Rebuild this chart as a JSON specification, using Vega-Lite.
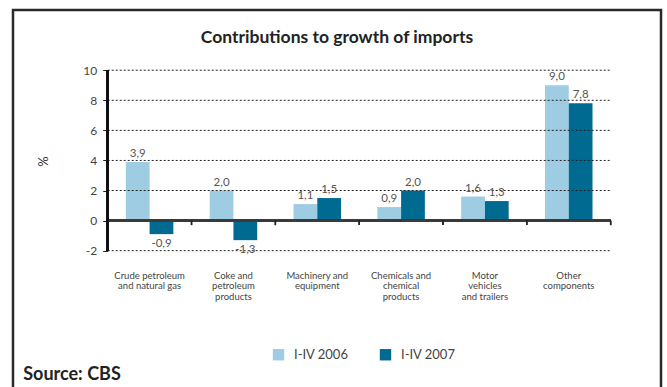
{
  "$schema": "https://vega.github.io/schema/vega-lite/v6.json",
  "width": 648,
  "height": 380,
  "autosize": {"type": "none"},
  "padding": {"left": 13, "top": 10, "right": 6, "bottom": 0},
  "background": "white",
  "title": {
    "text": "Contributions to growth of imports",
    "font": "Lato",
    "fontSize": 17.5,
    "fontWeight": "bold",
    "color": "#222222",
    "anchor": "middle",
    "offset": -36
  },
  "config": {
    "font": "Lato",
    "view": {"stroke": "#2a2a2a", "strokeWidth": 2.5},
    "locale": {
      "number": {
        "decimal": ",",
        "thousands": ".",
        "grouping": [3],
        "currency": ["", ""],
        "minus": "-"
      }
    }
  },
  "datasets": {
    "imports": [
      {"cat": "Crude petroleum|and natural gas", "yr": "I-IV 2006", "v": 3.9},
      {"cat": "Crude petroleum|and natural gas", "yr": "I-IV 2007", "v": -0.9},
      {"cat": "Coke and|petroleum|products", "yr": "I-IV 2006", "v": 2.0},
      {"cat": "Coke and|petroleum|products", "yr": "I-IV 2007", "v": -1.3},
      {"cat": "Machinery and|equipment", "yr": "I-IV 2006", "v": 1.1},
      {"cat": "Machinery and|equipment", "yr": "I-IV 2007", "v": 1.5},
      {"cat": "Chemicals and|chemical|products", "yr": "I-IV 2006", "v": 0.9},
      {"cat": "Chemicals and|chemical|products", "yr": "I-IV 2007", "v": 2.0},
      {"cat": "Motor|vehicles|and trailers", "yr": "I-IV 2006", "v": 1.6},
      {"cat": "Motor|vehicles|and trailers", "yr": "I-IV 2007", "v": 1.3},
      {"cat": "Other|components", "yr": "I-IV 2006", "v": 9.0},
      {"cat": "Other|components", "yr": "I-IV 2007", "v": 7.8}
    ],
    "gridlines": [
      {"g": -2}, {"g": 2}, {"g": 4}, {"g": 6}, {"g": 8}, {"g": 10}
    ]
  },
  "layer": [
    {
      "data": {"name": "imports"},
      "mark": {"type": "bar"},
      "encoding": {
        "x": {
          "field": "cat",
          "type": "nominal",
          "sort": null,
          "scale": {
            "domain": [
              "Crude petroleum|and natural gas",
              "Coke and|petroleum|products",
              "Machinery and|equipment",
              "Chemicals and|chemical|products",
              "Motor|vehicles|and trailers",
              "Other|components"
            ],
            "paddingInner": 0,
            "paddingOuter": 0.865,
            "align": 0.653
          },
          "axis": {
            "title": "Source: CBS",
            "titleFont": "Lato",
            "titleFontSize": 18,
            "titleFontWeight": "bold",
            "titleColor": "#222222",
            "titleX": 9.7,
            "titleY": 128,
            "titleAlign": "left",
            "titleAnchor": "start",
            "titleBaseline": "alphabetic",
            "offset": -139,
            "domain": false,
            "ticks": false,
            "grid": false,
            "labelAngle": 0,
            "labelPadding": 19,
            "labelFont": "Lato",
            "labelFontSize": 9.5,
            "labelColor": "#444444",
            "labelLineHeight": 10.5,
            "labelBaseline": "top",
            "labelExpr": "split(datum.label, '|')"
          }
        },
        "xOffset": {
          "field": "yr",
          "type": "nominal",
          "scale": {"paddingInner": 0, "paddingOuter": 0.765}
        },
        "y": {
          "field": "v",
          "type": "quantitative",
          "scale": {"domain": [-11.263, 14.003], "nice": false},
          "axis": {
            "title": "%",
            "titleFont": "Lato",
            "titleFontSize": 13,
            "titleFontWeight": "normal",
            "titleColor": "#333333",
            "titleX": -64.7,
            "titleY": 151,
            "titleAngle": -90,
            "titleAlign": "center",
            "titleBaseline": "middle",
            "offset": -94.7,
            "values": [-2, 0, 2, 4, 6, 8, 10],
            "format": "d",
            "domain": false,
            "grid": false,
            "ticks": true,
            "tickSize": 5,
            "tickColor": "#222222",
            "tickWidth": 1,
            "labelPadding": 6,
            "labelFont": "Lato",
            "labelFontSize": 12,
            "labelColor": "#444444"
          }
        },
        "y2": {"datum": 0},
        "color": {
          "field": "yr",
          "type": "nominal",
          "scale": {"domain": ["I-IV 2006", "I-IV 2007"], "range": ["#9ecce3", "#006a91"]},
          "legend": {
            "title": null,
            "orient": "none",
            "legendX": 259,
            "legendY": 338,
            "direction": "horizontal",
            "symbolType": "square",
            "symbolSize": 130,
            "symbolStrokeWidth": 0,
            "symbolOpacity": 1,
            "labelFont": "Lato",
            "labelFontSize": 13,
            "labelColor": "#444444",
            "labelOffset": 9,
            "columnPadding": 30,
            "padding": 0
          }
        }
      }
    },
    {
      "data": {"name": "gridlines"},
      "mark": {"type": "rule", "stroke": "#222222", "strokeWidth": 1, "strokeDash": [2, 2]},
      "encoding": {
        "x": {"datum": "Crude petroleum|and natural gas", "type": "nominal", "bandPosition": 0},
        "x2": {"datum": "Other|components", "bandPosition": 1},
        "y": {"field": "g", "type": "quantitative"}
      }
    },
    {
      "data": {"name": "imports"},
      "mark": {"type": "rule", "stroke": "#3a3a3a", "strokeWidth": 2},
      "encoding": {
        "x": {"datum": "Crude petroleum|and natural gas", "type": "nominal", "bandPosition": 0},
        "x2": {"datum": "Other|components", "bandPosition": 1},
        "y": {"datum": 0, "type": "quantitative"}
      }
    },
    {
      "data": {"name": "imports"},
      "mark": {"type": "rule", "stroke": "#222222", "strokeWidth": 1.5},
      "encoding": {
        "x": {"field": "cat", "type": "nominal", "bandPosition": 1},
        "y": {"datum": 0, "type": "quantitative"},
        "y2": {"datum": -0.3}
      }
    },
    {
      "data": {"name": "imports"},
      "mark": {"type": "rule", "stroke": "#111111", "strokeWidth": 2.5},
      "encoding": {
        "x": {"datum": "Crude petroleum|and natural gas", "type": "nominal", "bandPosition": 0},
        "y": {"datum": -2, "type": "quantitative"},
        "y2": {"datum": 10}
      }
    },
    {
      "data": {"name": "imports"},
      "transform": [{"filter": "datum.v >= 0"}],
      "mark": {"type": "text", "baseline": "bottom", "dy": -3, "font": "Lato", "fontSize": 11.5, "color": "#555555"},
      "encoding": {
        "x": {"field": "cat", "type": "nominal"},
        "xOffset": {"field": "yr", "type": "nominal"},
        "y": {"field": "v", "type": "quantitative"},
        "text": {"field": "v", "type": "quantitative", "format": ".1f"}
      }
    },
    {
      "data": {"name": "imports"},
      "transform": [{"filter": "datum.v < 0"}],
      "mark": {"type": "text", "baseline": "top", "dy": 4, "font": "Lato", "fontSize": 11.5, "color": "#555555"},
      "encoding": {
        "x": {"field": "cat", "type": "nominal"},
        "xOffset": {"field": "yr", "type": "nominal"},
        "y": {"field": "v", "type": "quantitative"},
        "text": {"field": "v", "type": "quantitative", "format": ".1f"}
      }
    }
  ]
}
